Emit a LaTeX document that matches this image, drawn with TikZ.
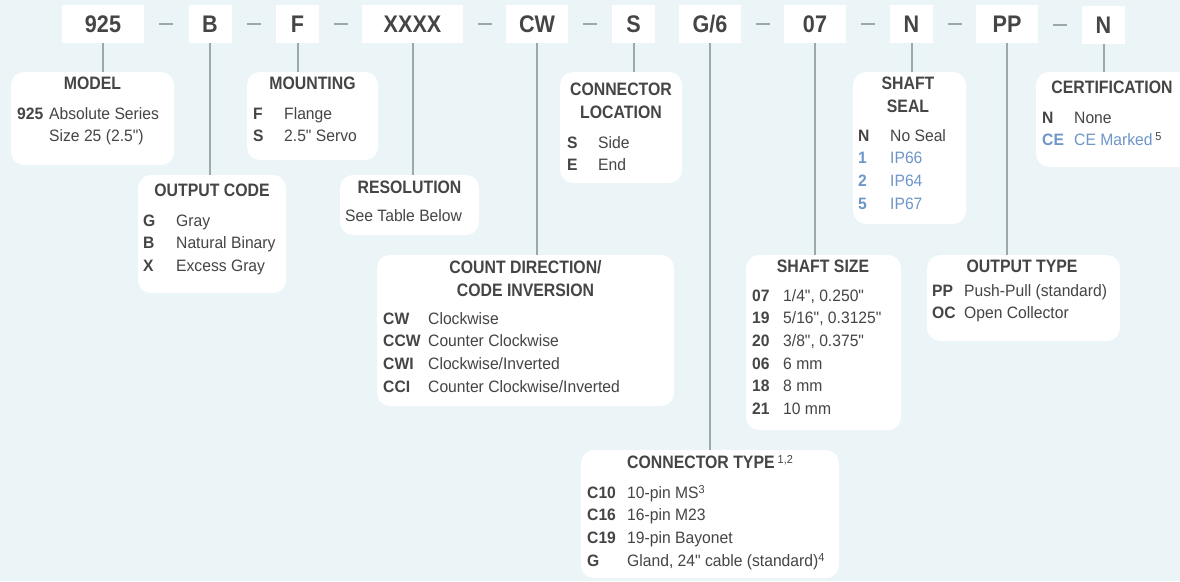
\documentclass[tikz,border=0pt]{standalone}
\usepackage{fontspec}
\usepackage{array}
\setmainfont[FakeStretch=0.95]{Liberation Sans}
\newfontfamily\bodyfont[FakeStretch=0.95]{Liberation Sans}
\newfontfamily\hdfont[FakeStretch=0.88]{Liberation Sans}
\newfontfamily\topfont[FakeStretch=0.9]{Liberation Sans}
\usetikzlibrary{calc}
\definecolor{bg}{HTML}{EBF4F7}
\definecolor{txt}{HTML}{454545}
\definecolor{ln}{HTML}{9BA9AA}
\definecolor{blu}{HTML}{6E96C8}
\newcommand\supx[1]{\raisebox{5pt}{\bodyfont\mdseries\fontsize{11.5}{11.5}\selectfont #1}}
\newcommand\rowtab[2]{\begin{tabular}[t]{@{}>{\leavevmode\bfseries}p{#1pt}@{}l@{}}#2\end{tabular}}
\newcommand\headtab[1]{\begin{tabular}[t]{@{}c@{}}#1\end{tabular}}
\newcommand\bl[1]{\leavevmode\textcolor{blu}{#1}}
\tikzset{
  code/.style={fill=white, inner sep=0pt, text height=17.3pt, text depth=0pt,
    font=\topfont\bfseries\fontsize{24}{24}\selectfont, text=txt, minimum height=38pt},
  panel/.style={fill=white, rounded corners=13pt, inner sep=0pt},
  head/.style={inner sep=0pt, anchor=base, font=\hdfont\bfseries\fontsize{18}{22.7}\selectfont, text=txt},
  rows/.style={inner sep=0pt, anchor=base west, font=\bodyfont\fontsize{16.5}{22.7}\selectfont, text=txt},
  link/.style={draw=ln, line width=2pt},
  sepline/.style={draw=ln, line width=2pt},
}
\begin{document}
\begin{tikzpicture}[x=1pt,y=-1pt]
\clip (0,0) rectangle (1180,581);
\fill[bg] (0,0) rectangle (1180,581);

% top code boxes
\node[code, minimum width=82pt] (t1) at (103,24) {925};
\node[code, minimum width=43pt] (t2) at (210,24) {B};
\node[code, minimum width=43pt] (t3) at (297.5,24) {F};
\node[code, minimum width=101pt] (t4) at (412.5,24) {XXXX};
\node[code, minimum width=62pt] (t5) at (537,24) {CW};
\node[code, minimum width=43pt] (t6) at (633.5,24) {S};
\node[code, minimum width=62pt] (t7) at (710,24) {G/6};
\node[code, minimum width=62pt] (t8) at (815,24) {07};
\node[code, minimum width=43pt] (t9) at (911.5,24) {N};
\node[code, minimum width=62pt] (t10) at (1007,24) {PP};
\node[code, minimum width=43pt] (t11) at (1103.5,25) {N};

% separators
\foreach \a/\b in {t1/t2,t2/t3,t3/t4,t4/t5,t5/t6,t7/t8,t8/t9,t9/t10,t10/t11}
  \draw[sepline] ($(\a.east)!0.5!(\b.west)+(-7,0)$) -- ++(14,0);

% panels
\node[panel, minimum width=163pt, minimum height=93pt] (model) at (92.5,118.5) {};
\node[panel, minimum width=148pt, minimum height=118pt] (outcode) at (212,234) {};
\node[panel, minimum width=131pt, minimum height=88pt] (mount) at (312.5,116) {};
\node[panel, minimum width=139pt, minimum height=60pt] (resol) at (409.5,205) {};
\node[panel, minimum width=297pt, minimum height=151pt] (countdir) at (525.5,330.5) {};
\node[panel, minimum width=122pt, minimum height=111pt] (connloc) at (621,127.5) {};
\node[panel, minimum width=258pt, minimum height=128pt] (conntype) at (710,514) {};
\node[panel, minimum width=155pt, minimum height=175pt] (shaftsize) at (823.5,342.5) {};
\node[panel, minimum width=113pt, minimum height=152pt] (shaftseal) at (909.5,148) {};
\node[panel, minimum width=193pt, minimum height=86pt] (outtype) at (1023.5,298) {};
\node[panel, minimum width=156pt, minimum height=95pt] (cert) at (1114,119.5) {};

% links
\draw[link] (t1.south) -- (t1.south |- model.north);
\draw[link] (t2.south) -- (t2.south |- outcode.north);
\draw[link] (t3.south) -- (t3.south |- mount.north);
\draw[link] (t4.south) -- (t4.south |- resol.north);
\draw[link] (t5.south) -- (t5.south |- countdir.north);
\draw[link] (t6.south) -- (t6.south |- connloc.north);
\draw[link] (t7.south) -- (t7.south |- conntype.north);
\draw[link] (t8.south) -- (t8.south |- shaftsize.north);
\draw[link] (t9.south) -- (t9.south |- shaftseal.north);
\draw[link] (t10.south) -- (t10.south |- outtype.north);
\draw[link] (t11.south) -- (t11.south |- cert.north);

% texts
\node[head] (model-h) at (92.5,89.5) {MODEL};
\node[rows] (model-t) at (17,119) {\rowtab{32}{925 & Absolute Series\\ & Size 25 (2.5")}};

\node[head] (mount-h) at (312.5,89.5) {MOUNTING};
\node[rows] (mount-t) at (253,119) {\rowtab{31}{F & Flange\\ S & 2.5" Servo}};

\node[head] (outcode-h) at (212,196.4) {OUTPUT CODE};
\node[rows] (outcode-t) at (143,226) {\rowtab{33}{G & Gray\\ B & Natural Binary\\ X & Excess Gray}};

\node[head] (resol-h) at (409.5,193.4) {RESOLUTION};
\node[rows] (resol-t) at (345,221) {See Table Below};

\node[head] (countdir-h) at (525.5,273.4) {\headtab{COUNT DIRECTION/\\ CODE INVERSION}};
\node[rows] (countdir-t) at (383,324) {\rowtab{45}{CW & Clockwise\\ CCW & Counter Clockwise\\ CWI & Clockwise/Inverted\\ CCI & Counter Clockwise/Inverted}};

\node[head] (connloc-h) at (621,95.4) {\headtab{CONNECTOR\\ LOCATION}};
\node[rows] (connloc-t) at (567,148) {\rowtab{31}{S & Side\\ E & End}};

\node[head] (conntype-h) at (710,468.4) {CONNECTOR TYPE\,\supx{1,2}};
\node[rows] (conntype-t) at (587,498) {\rowtab{40}{C10 & 10-pin MS\supx{3}\\ C16 & 16-pin M23\\ C19 & 19-pin Bayonet\\ G & Gland, 24" cable (standard)\supx{4}}};

\node[head] (shaftsize-h) at (823,272.4) {SHAFT SIZE};
\node[rows] (shaftsize-t) at (752,301) {\rowtab{31}{07 & 1/4", 0.250"\\ 19 & 5/16", 0.3125"\\ 20 & 3/8", 0.375"\\ 06 & 6 mm\\ 18 & 8 mm\\ 21 & 10 mm}};

\node[head] (shaftseal-h) at (908,89.4) {\headtab{SHAFT\\ SEAL}};
\node[rows] (shaftseal-t) at (858,141) {\rowtab{32}{N & No Seal\\ \bl{1} & \bl{IP66}\\ \bl{2} & \bl{IP64}\\ \bl{5} & \bl{IP67}}};

\node[head] (outtype-h) at (1022,272.4) {OUTPUT TYPE};
\node[rows] (outtype-t) at (932,296) {\rowtab{32}{PP & Push-Pull (standard)\\ OC & Open Collector}};

\node[head] (cert-h) at (1112,93.4) {CERTIFICATION};
\node[rows] (cert-t) at (1042,123) {\rowtab{32}{N & None\\ \bl{CE} & \bl{CE Marked}\,\textcolor{txt}{\supx{5}}}};
\end{tikzpicture}
\end{document}
